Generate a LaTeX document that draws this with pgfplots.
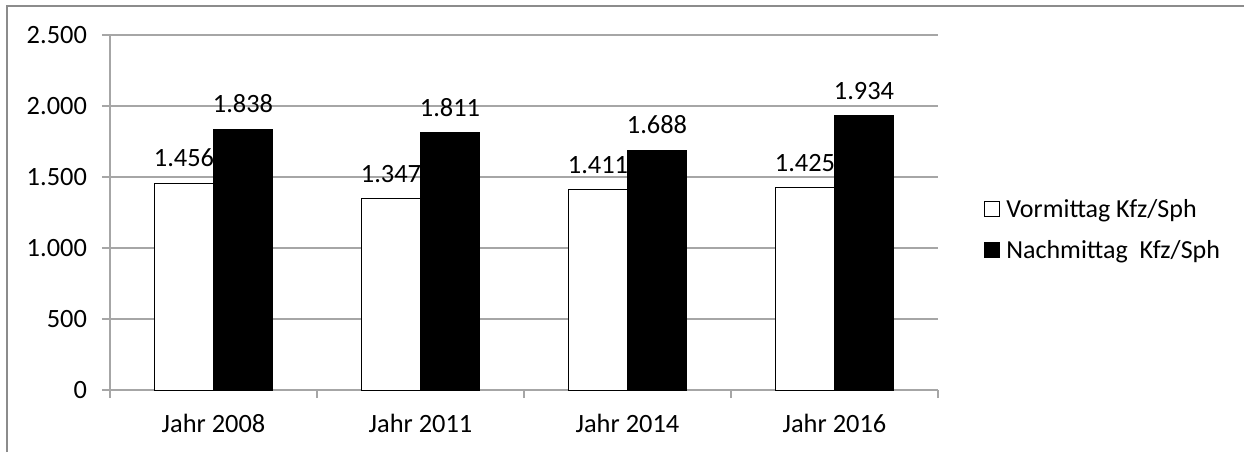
\documentclass[border=0pt]{standalone}
\usepackage{pgfplots}
\pgfplotsset{compat=1.18}
\usepackage{fontspec}
\setmainfont{Carlito}
\definecolor{gridc}{HTML}{A6A6A6}
\definecolor{framec}{HTML}{8C8C8C}
\begin{document}
\begin{tikzpicture}
\path[use as bounding box] (-55pt,-31pt) rectangle (567pt,195pt);
\draw[color=framec, line width=1pt] (-51.5pt,-31pt) -- (-51.5pt,192pt) -- (567pt,192pt);
\begin{axis}[
  at={(0,0)}, anchor=south west,
  scale only axis, width=414pt, height=177.5pt,
  ymin=0, ymax=2500, xmin=-0.5, xmax=3.5,
  ybar, bar width=29.5pt,
  axis x line*=bottom, axis y line*=left,
  axis line style={gridc, line width=0.8pt, -},
  ytick={0,500,1000,1500,2000,2500},
  ymajorgrids, grid style={gridc, line width=0.8pt},
  xtick={-0.5,0.5,1.5,2.5,3.5}, xticklabels={},
  extra x ticks={0,1,2,3},
  extra x tick labels={Jahr 2008,Jahr 2011,Jahr 2014,Jahr 2016},
  extra x tick style={major tick length=0pt, grid=none,
     xticklabel style={yshift=-8.5pt}},
  tick align=outside, major tick length=4pt,
  tick style={gridc, line width=0.8pt},
  /pgf/number format/assume math mode=true,
  /pgf/number format/1000 sep={.},
  ticklabel style={font=\fontsize{13.2}{15}\selectfont, text=black},
  yticklabel style={xshift=-4pt},
  nodes near coords,
  every node near coord/.append style={font=\fontsize{13.2}{15}\selectfont, text=black, yshift=4.5pt},
  legend style={at={(1.0555,0.4507)}, anchor=west, draw=none, fill=none,
     font=\fontsize{13}{15}\selectfont, row sep=8pt, inner sep=0pt,
     nodes={inner sep=1pt}},
  legend cell align=left,
  legend image code/.code={\draw[#1, draw=black, line width=0.5pt] (0pt,-3.5pt) rectangle (7.5pt,4pt); \path (9.5pt,0pt);},
]
\addplot[draw=black, fill=white, line width=0.5pt, bar shift=-14.75pt] coordinates {(0,1456) (1,1347) (2,1411) (3,1425)};
\addplot[draw=black, fill=black, line width=0.5pt, bar shift=14.75pt] coordinates {(0,1838) (1,1811) (2,1688) (3,1934)};
\legend{Vormittag Kfz/Sph, Nachmittag~~Kfz/Sph}
\end{axis}
\end{tikzpicture}
\end{document}
